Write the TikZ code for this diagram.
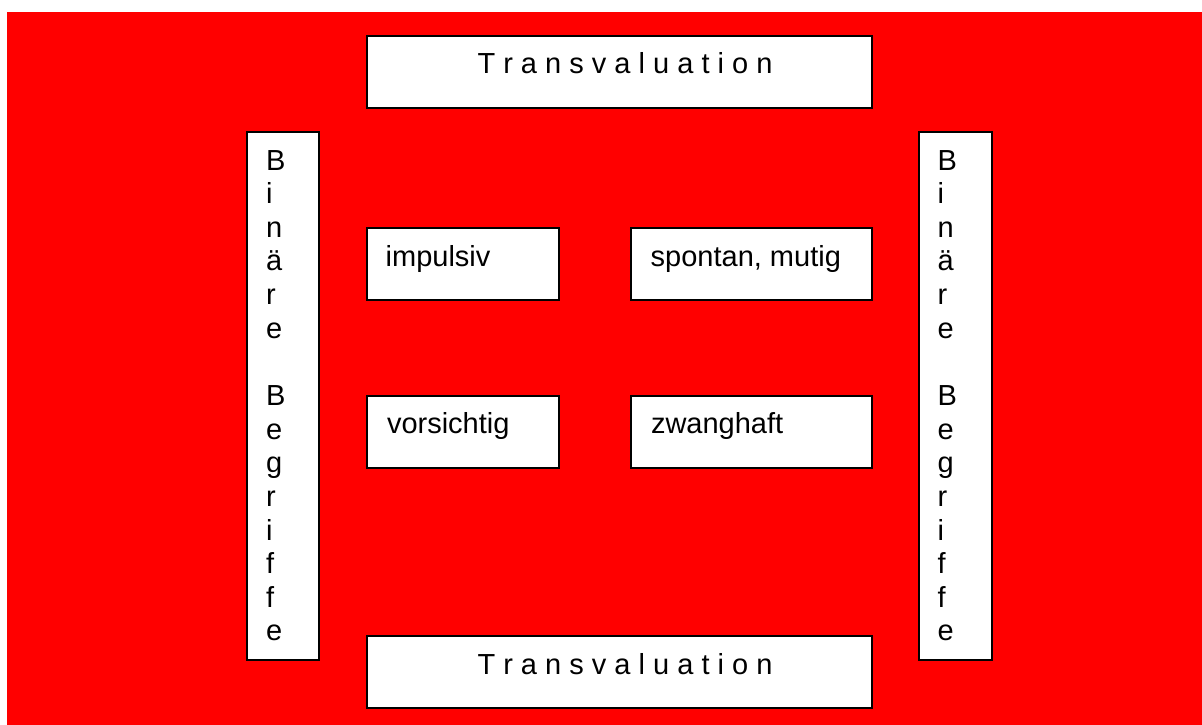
\documentclass[tikz,border=0pt]{standalone}
\usepackage{fontspec}
\setmainfont{Liberation Sans}
\tikzset{
  boxnode/.style={draw=black, fill=white, line width=1.5pt, inner sep=0pt, outer sep=0pt},
  lbl/.style={anchor=base west, inner sep=0pt, outer sep=0pt, font=\fontsize{29}{33.64}\selectfont, text=black}
}
\begin{document}
\begin{tikzpicture}[x=1pt,y=-1pt]
\useasboundingbox (0,0) rectangle (1202,725);
\fill[white] (0,0) rectangle (1202,725);
\fill[red] (7,12) rectangle (1202,725);
% boxes
\node[boxnode, minimum width=505pt, minimum height=72pt] (top) at (619.5,72) {};
\node[boxnode, minimum width=505pt, minimum height=72pt] (bottom) at (619.5,672) {};
\node[boxnode, minimum width=72pt, minimum height=528pt] (left) at (283,396) {};
\node[boxnode, minimum width=73pt, minimum height=528pt] (right) at (955.5,396) {};
\node[boxnode, minimum width=192pt, minimum height=72pt] (imp) at (463,264) {};
\node[boxnode, minimum width=241pt, minimum height=72pt] (spo) at (751.5,264) {};
\node[boxnode, minimum width=192pt, minimum height=72pt] (vor) at (463,432) {};
\node[boxnode, minimum width=241pt, minimum height=72pt] (zwa) at (751.5,432) {};
% texts
\node[lbl] (ttop) at (477.5,74) {T r a n s v a l u a t i o n};
\node[lbl] (tbot) at (477.5,674) {T r a n s v a l u a t i o n};
\node[lbl] (timp) at (385.7,266.7) {impulsiv};
\node[lbl] (tspo) at (650.7,266.7) {spontan, mutig};
\node[lbl] (tvor) at (387,433.3) {vorsichtig};
\node[lbl] (tzwa) at (651,433.3) {zwanghaft};
\foreach [count=\i from 0] \c in {B,i,n,ä,r,e,{},B,e,g,r,i,f,f,e} {
  \node[lbl] (l\i) at (266,170+\i*33.64) {\c};
  \node[lbl] (r\i) at (937.7,170+\i*33.64) {\c};
}
\end{tikzpicture}
\end{document}
